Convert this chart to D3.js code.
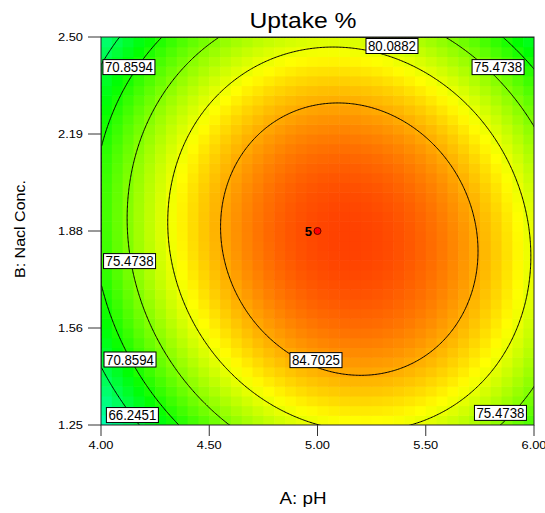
<!DOCTYPE html>
<html><head><meta charset="utf-8">
<script src="https://cdn.jsdelivr.net/npm/d3@7"></script>
<style>
body{margin:0;background:#fff}
text{font-family:"Liberation Sans",Arial,sans-serif;fill:#000}
</style>
</head><body>
<svg id="chart" width="545" height="513"></svg>
<script>
// ---------------- data ----------------
const title = "Uptake %";
const xLabel = "A: pH";
const yLabel = "B: Nacl Conc.";
const xDomain = [4.00, 6.00];
const yDomain = [1.25, 2.50];
const xTicks = [4.00, 4.50, 5.00, 5.50, 6.00];
const xTickLabels = ["4.00", "4.50", "5.00", "5.50", "6.00"];
const yTicks = [1.25, 1.5625, 1.875, 2.1875, 2.50];
const yTickLabels = ["1.25", "1.56", "1.88", "2.19", "2.50"];
// quadratic model in coded units: A=(pH-5)/1, B=(Conc-1.875)/0.625
const modelTerms = ["Intercept", "A", "B", "AB", "A^2", "B^2"];
const modelCoefs = [89.09, 3.74, -0.45, -2.00, -13.30, -9.54];
const responseRange = [47.4, 92.2];
const contourLevels = [66.2451, 70.8594, 75.4738, 80.0882, 84.7025];
const labelText = ["70.8594", "80.0882", "75.4738", "75.4738", "70.8594", "66.2451", "84.7025", "75.4738"];
const labelPH   = [4.129, 5.344, 5.834, 4.132, 4.134, 4.145, 4.993, 5.845];
const labelConc = [2.403, 2.471, 2.403, 1.778, 1.461, 1.282, 1.459, 1.289];
const designPH = [5.00];
const designConc = [1.875];
const designCount = ["5"];

// ---------------- layout ----------------
const svg = d3.select("#chart");
const L = 101, R = 534, T = 37, B = 425;
const W = R - L, H = B - T;
const x = d3.scaleLinear().domain(xDomain).range([L, R]);
const y = d3.scaleLinear().domain(yDomain).range([B, T]);

function model(ph, conc) {
  const a = (ph - 5) / 1, b = (conc - 1.875) / 0.625;
  const c = modelCoefs;
  return c[0] + c[1]*a + c[2]*b + c[3]*a*b + c[4]*a*a + c[5]*b*b;
}

const q = (responseRange[1] - responseRange[0]) / 4;
const color = d3.scaleLinear()
  .domain(d3.range(5).map(i => responseRange[0] + i*q))
  .range(["#0000ff", "#00ffff", "#00ff00", "#ffff00", "#ff0000"])
  .clamp(true);

svg.append("defs").append("clipPath").attr("id", "plotclip")
  .append("rect").attr("x", L).attr("y", T).attr("width", W).attr("height", H);

// heatmap cells
const nc = 40;
const cells = [];
for (let j = 0; j < nc; j++) for (let i = 0; i < nc; i++) {
  const ph0 = xDomain[0] + (xDomain[1]-xDomain[0]) * i / nc;
  const ph1 = xDomain[0] + (xDomain[1]-xDomain[0]) * (i+1) / nc;
  const c0 = yDomain[0] + (yDomain[1]-yDomain[0]) * j / nc;
  const c1 = yDomain[0] + (yDomain[1]-yDomain[0]) * (j+1) / nc;
  cells.push({ph0, ph1, c0, c1, v: model((ph0+ph1)/2, (c0+c1)/2)});
}
const g = svg.append("g").attr("clip-path", "url(#plotclip)");
g.selectAll("rect.cell").data(cells).join("rect").attr("class", "cell")
  .attr("x", d => x(d.ph0)).attr("y", d => y(d.c1))
  .attr("width", d => x(d.ph1) - x(d.ph0) + 0.6)
  .attr("height", d => y(d.c0) - y(d.c1) + 0.6)
  .attr("fill", d => color(d.v));

// contours
const n = 300;
const vals = new Array((n+1)*(n+1));
for (let j = 0; j <= n; j++) for (let i = 0; i <= n; i++) {
  const ph = xDomain[0] + (xDomain[1]-xDomain[0]) * i / n;
  const conc = yDomain[1] - (yDomain[1]-yDomain[0]) * j / n;
  vals[j*(n+1) + i] = model(ph, conc);
}
const contours = d3.contours().size([n+1, n+1]).thresholds(contourLevels)(vals);
const proj = d3.geoTransform({point: function(px, py) {
  this.stream.point(L + px / n * W, T + py / n * H);
}});
const path = d3.geoPath(proj);
g.selectAll("path.ct").data(contours).join("path").attr("class", "ct")
  .attr("d", path).attr("fill", "none").attr("stroke", "#000").attr("stroke-width", 1);

// frame
svg.append("rect").attr("x", L).attr("y", T).attr("width", W).attr("height", H)
  .attr("fill", "none").attr("stroke", "#222").attr("stroke-width", 1);

// contour labels
const lab = svg.append("g");
labelText.forEach((t, i) => {
  const cx = x(labelPH[i]), cy = y(labelConc[i]);
  const gg = lab.append("g");
  const r = gg.append("rect");
  const tx = gg.append("text").attr("x", cx).attr("y", cy + 5)
    .attr("text-anchor", "middle").attr("font-size", 14)
    .attr("textLength", 48).attr("lengthAdjust", "spacingAndGlyphs").text(t);
  r.attr("x", cx - 26).attr("y", cy - 7.5).attr("width", 52).attr("height", 15)
    .attr("fill", "#fff").attr("stroke", "#000").attr("stroke-width", 1);
});

// design point
designPH.forEach((p, i) => {
  svg.append("circle").attr("cx", x(p)).attr("cy", y(designConc[i])).attr("r", 3.5)
    .attr("fill", "#ff0000").attr("stroke", "#600").attr("stroke-width", 1);
  svg.append("text").attr("x", x(p) - 5.5).attr("y", y(designConc[i]) + 4.5)
    .attr("text-anchor", "end").attr("font-size", 13).attr("font-weight", "bold").text(designCount[i]);
});

// axes
const ax = svg.append("g");
xTicks.forEach((t, i) => {
  ax.append("line").attr("x1", x(t)).attr("x2", x(t)).attr("y1", B).attr("y2", B + 11)
    .attr("stroke", "#333");
  ax.append("text").attr("x", x(t)).attr("y", B + 24).attr("text-anchor", "middle")
    .attr("font-size", 10.5).attr("textLength", 25).attr("lengthAdjust", "spacingAndGlyphs")
    .text(xTickLabels[i]);
});
yTicks.forEach((t, i) => {
  ax.append("line").attr("x1", L - 13).attr("x2", L).attr("y1", y(t)).attr("y2", y(t))
    .attr("stroke", "#333");
  ax.append("text").attr("x", L - 18).attr("y", y(t) + 4).attr("text-anchor", "end")
    .attr("font-size", 10.5).attr("textLength", 25).attr("lengthAdjust", "spacingAndGlyphs")
    .text(yTickLabels[i]);
});

svg.append("text").attr("x", 303).attr("y", 28).attr("text-anchor", "middle")
  .attr("font-size", 22).attr("textLength", 107).attr("lengthAdjust", "spacingAndGlyphs").text(title);
svg.append("text").attr("x", 303).attr("y", 504).attr("text-anchor", "middle")
  .attr("font-size", 16).attr("textLength", 47).attr("lengthAdjust", "spacingAndGlyphs").text(xLabel);
svg.append("text").attr("transform", "translate(25,229) rotate(-90)").attr("text-anchor", "middle")
  .attr("font-size", 15).attr("textLength", 98).attr("lengthAdjust", "spacingAndGlyphs").text(yLabel);
</script>
</body></html>
